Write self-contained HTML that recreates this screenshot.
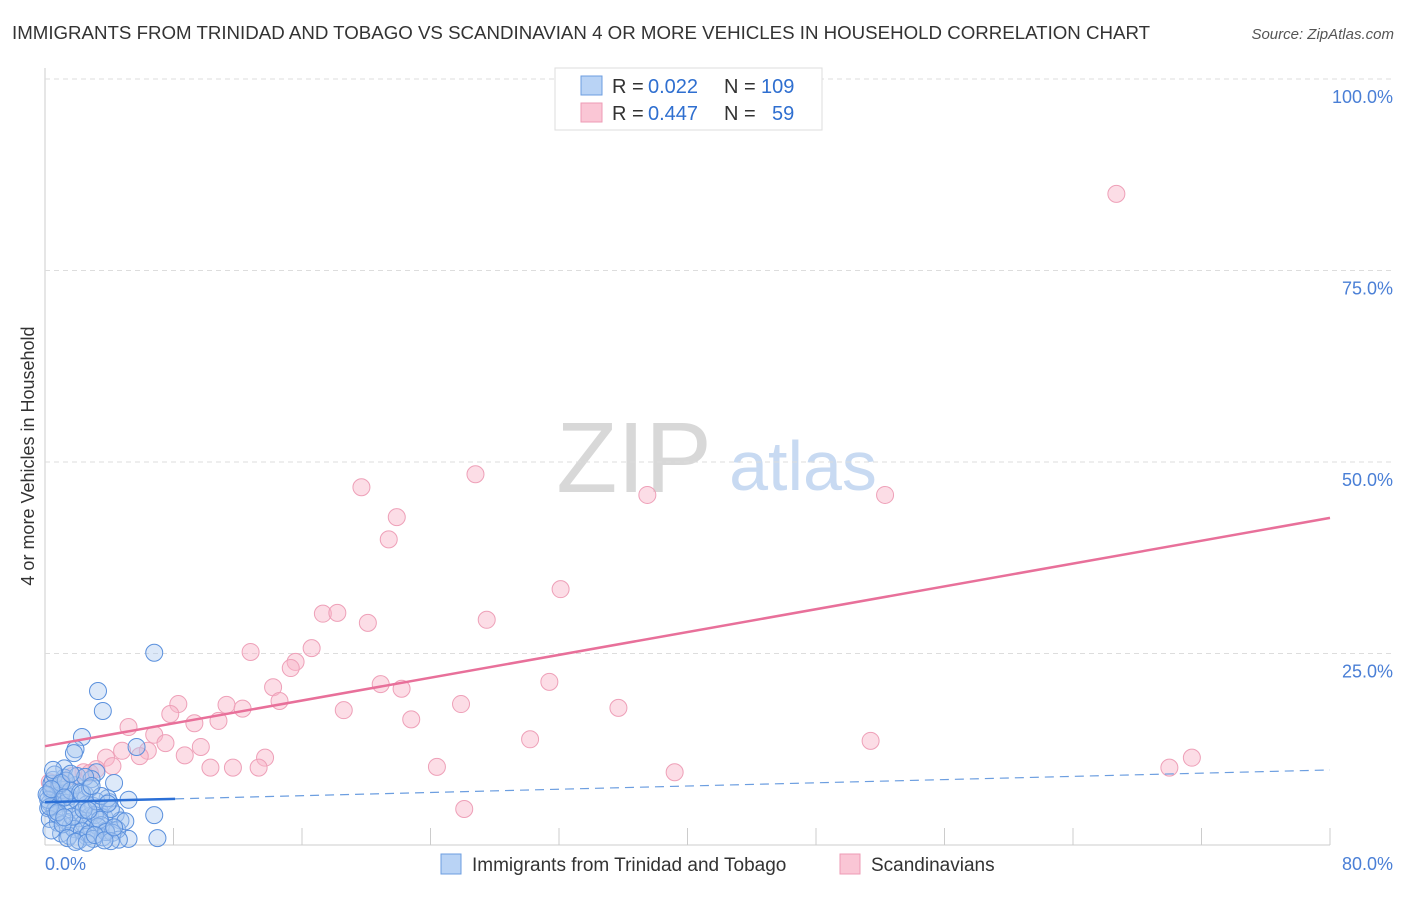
<!DOCTYPE html>
<html><head><meta charset="utf-8"><style>
body{margin:0;background:#fff;font-family:"Liberation Sans",sans-serif;}
svg text{font-family:"Liberation Sans",sans-serif;}
</style></head><body>
<svg id="c" width="1406" height="892">
<text x="12" y="39" font-size="18.7" fill="#333">IMMIGRANTS FROM TRINIDAD AND TOBAGO VS SCANDINAVIAN 4 OR MORE VEHICLES IN HOUSEHOLD CORRELATION CHART</text>
<text x="1394" y="39" font-size="15" fill="#555" font-style="italic" text-anchor="end">Source: ZipAtlas.com</text>
<g><text x="634" y="492" font-size="100" fill="#d8d8d8" font-family="Liberation Serif" text-anchor="middle">ZIP</text><text x="803" y="490" font-size="70" fill="#c8daf2" text-anchor="middle">atlas</text></g>
<text transform="translate(34,456) rotate(-90)" font-size="18" fill="#333" text-anchor="middle">4 or more Vehicles in Household</text>
<g id="grid"></g><g id="pts"></g><g id="lines"></g>
<g>
<rect x="555" y="68" width="267" height="62" fill="#fff" stroke="#ddd"/>
<rect x="581" y="76" width="21" height="19" fill="#b9d3f5" stroke="#6c9ee0"/>
<rect x="581" y="103" width="21" height="19" fill="#fac6d5" stroke="#ee9bb5"/>
<text x="612" y="93" font-size="20" fill="#333">R =</text><text x="648" y="93" font-size="20" fill="#2f6fd0">0.022</text>
<text x="724" y="93" font-size="20" fill="#333">N =</text><text x="761" y="93" font-size="20" fill="#2f6fd0">109</text>
<text x="612" y="120" font-size="20" fill="#333">R =</text><text x="648" y="120" font-size="20" fill="#2f6fd0">0.447</text>
<text x="724" y="120" font-size="20" fill="#333">N =</text><text x="772" y="120" font-size="20" fill="#2f6fd0">59</text>
</g>
<g>
<rect x="441" y="854" width="20" height="20" fill="#b9d3f5" stroke="#6c9ee0"/>
<text x="472" y="871" font-size="19" fill="#333">Immigrants from Trinidad and Tobago</text>
<rect x="840" y="854" width="20" height="20" fill="#fac6d5" stroke="#ee9bb5"/>
<text x="871" y="871" font-size="19" fill="#333">Scandinavians</text>
</g>
</svg>
<script>
const yTicks=[100,75,50,25];
const yTickLabels=["100.0%","75.0%","50.0%","25.0%"];
const xTickLabels=["0.0%","80.0%"];
const pinkX=[66.7,26.8,19.7,37.5,52.3,21.9,21.4,32.1,17.3,18.2,20.1,27.5,16.6,12.8,15.6,15.3,31.4,20.9,14.2,22.2,14.6,8.3,11.3,25.9,35.7,12.3,18.6,7.8,9.3,10.8,22.8,5.2,6.8,7.5,30.2,51.4,9.7,4.8,6.4,5.9,8.7,3.8,13.7,71.4,10.3,11.7,13.3,24.4,70.0,39.2,4.2,3.2,2.4,1.7,0.9,0.3,26.1,0.6,2.8];
const pinkY=[85.0,48.4,46.7,45.7,45.7,42.8,39.9,33.4,30.2,30.3,29.0,29.4,25.7,25.2,23.9,23.1,21.3,21.0,20.6,20.4,18.8,18.4,18.3,18.4,17.9,17.8,17.6,17.1,15.9,16.2,16.4,15.4,14.4,13.3,13.8,13.6,12.8,12.3,12.3,11.6,11.7,11.4,11.4,11.4,10.1,10.1,10.1,10.2,10.1,9.5,10.3,9.9,9.5,9.0,8.2,8.2,4.7,7.2,9.4];
const blueX=[6.8,3.3,3.6,2.3,1.9,1.8,5.7,1.2,3.2,4.3,5.2,6.8,7.0,5.2,0.2,0.4,0.6,0.8,1.0,0.3,0.5,0.7,0.9,1.1,0.2,0.4,0.6,1.3,1.5,1.7,2.0,2.2,2.5,2.8,3.0,3.4,3.7,4.0,4.4,4.7,1.4,1.6,1.9,2.1,2.4,2.6,2.9,3.1,3.5,3.8,4.1,4.5,0.3,0.5,0.8,1.0,1.2,1.5,1.8,2.0,2.3,2.6,2.9,3.3,3.6,3.9,4.2,4.6,5.0,0.4,0.7,1.1,1.4,1.7,2.1,2.4,2.7,3.0,3.4,3.8,4.1,0.2,0.6,0.9,1.3,1.6,2.2,2.5,2.8,3.2,3.5,0.3,0.8,1.2,1.9,2.6,3.1,3.7,4.3,0.5,1.0,1.6,2.3,2.9,3.9,0.1,0.4,1.2,2.7];
const blueY=[25.1,20.1,17.5,14.1,12.5,12.0,12.8,10.0,9.5,8.1,5.9,3.9,0.9,0.8,6.5,7.0,6.2,5.8,6.8,5.5,7.5,5.2,6.0,7.2,4.8,8.0,4.5,5.5,6.3,4.9,5.8,4.2,6.6,3.8,5.1,4.4,3.6,5.6,4.0,3.2,3.0,2.5,7.8,3.5,2.8,5.3,2.2,3.9,2.6,1.9,4.7,2.0,3.4,8.5,2.9,1.5,8.8,1.2,2.1,9.0,1.8,1.1,8.6,2.4,1.0,6.1,1.6,0.7,3.1,1.9,4.1,2.7,0.9,3.7,0.6,4.6,1.4,0.8,3.3,1.7,0.5,5.9,9.2,7.8,8.4,7.1,6.9,8.9,7.4,5.7,6.4,5.0,4.3,3.6,0.4,0.3,1.3,0.6,2.3,9.8,8.1,9.3,6.7,7.7,5.4,6.6,7.3,6.2,4.5];
const pinkLine=[12.9,42.7];
const blueLine=[5.6,9.8];
const X=v=>45+v/80*1285, Y=v=>845-v/100*766;
const NS="http://www.w3.org/2000/svg";
function mk(t,a,p){const e=document.createElementNS(NS,t);for(const k in a)e.setAttribute(k,a[k]);p.appendChild(e);return e;}
const g=document.getElementById('grid');
const ax=mk('line',{x1:45,y1:68,x2:45,y2:845,stroke:'#ccc'},g);


const bx=mk('line',{x1:45,y1:845,x2:1330,y2:845,stroke:'#ccc'},g);


yTicks.forEach((v,i)=>{
 const l=mk('line',{x1:45,y1:Y(v),x2:1394,y2:Y(v),stroke:'#ddd','stroke-dasharray':'5,4'},g);
 
 
 const t=mk('text',{x:1393,y:Y(v)+24,'font-size':18,fill:'#4a7fd6','text-anchor':'end'},g);
 t.textContent=yTickLabels[i];
 
 
});
for(let i=1;i<=10;i++){
 const l=mk('line',{x1:X(i*8),y1:828,x2:X(i*8),y2:845,stroke:'#ccc'},g);
 
 
}
[[0,'start',45],[80,'end',1393]].forEach((d,i)=>{
 const t=mk('text',{x:d[2],y:870,'font-size':18,fill:'#4a7fd6','text-anchor':d[1]},g);
 t.textContent=xTickLabels[i];
 
 
});
const P=document.getElementById('pts');
pinkX.forEach((x,i)=>{
 const c=mk('circle',{cx:X(x),cy:Y(pinkY[i]),r:8.5,fill:'rgba(248,180,200,0.45)',stroke:'#eea0b8','stroke-width':1},P);
 
 
});
blueX.forEach((x,i)=>{
 const c=mk('circle',{cx:X(x),cy:Y(blueY[i]),r:8.5,fill:'rgba(170,200,240,0.4)',stroke:'#5a90dd','stroke-width':1},P);
 
 
});
const L=document.getElementById('lines');
const pl=mk('line',{x1:X(0),y1:Y(pinkLine[0]),x2:X(80),y2:Y(pinkLine[1]),stroke:'#e8709a','stroke-width':2.5},L);


const bAt=v=>blueLine[0]+(blueLine[1]-blueLine[0])*v/80;
const bd=mk('line',{x1:X(8.1),y1:Y(bAt(8.1)),x2:X(80),y2:Y(bAt(80)),stroke:'#6c9ee0','stroke-width':1.2,'stroke-dasharray':'9,6'},L);


const bs=mk('line',{x1:X(0),y1:Y(bAt(0)),x2:X(8.1),y2:Y(bAt(8.1)),stroke:'#2b6fd6','stroke-width':2.5},L);


</script>
</body></html>
